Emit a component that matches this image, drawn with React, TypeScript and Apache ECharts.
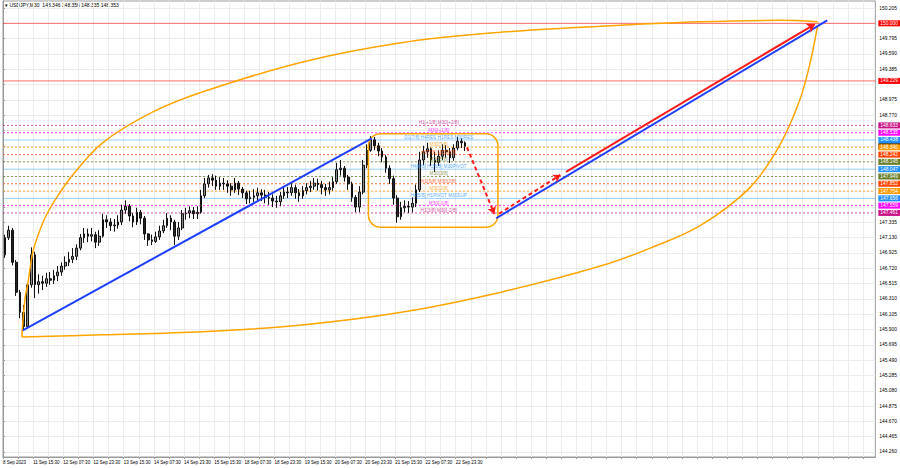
import React, { useEffect, useRef } from 'react';
import * as echarts from 'echarts';

// ---- axes ----
const timeLabels = ['8 Sep 2023', '11 Sep 15:30', '12 Sep 07:30', '12 Sep 23:30', '13 Sep 15:30', '14 Sep 07:30', '14 Sep 23:30', '15 Sep 15:30', '18 Sep 07:30', '18 Sep 23:30', '19 Sep 15:30', '20 Sep 07:30', '20 Sep 23:30', '21 Sep 15:30', '22 Sep 07:30', '22 Sep 23:30'];
const timeLabelBars = [0, 32, 64, 96, 128, 160, 192, 224, 256, 288, 320, 352, 384, 416, 448, 480];
const gridBars = [0, 16, 32, 48, 64, 80, 96, 112, 128, 144, 160, 176, 192, 208, 224, 240, 256, 272, 288, 304, 320, 336, 352, 368, 384, 400, 416, 432, 448, 464, 480, 496, 512, 528, 544, 560, 576, 592, 608, 624, 640, 656, 672, 688, 704, 720, 736, 752, 768, 784, 800, 816, 832, 848, 864, 880, 896, 912];
const priceTicks = [150.205, 150.0, 149.795, 149.59, 149.385, 149.18, 148.975, 148.77, 148.565, 148.36, 148.155, 147.95, 147.745, 147.54, 147.335, 147.13, 146.925, 146.72, 146.515, 146.31, 146.105, 145.9, 145.695, 145.49, 145.285, 145.08, 144.875, 144.67, 144.465, 144.26];
// tick labels visible (the others are covered by the level tags on the price scale)
const priceTickLabels = [150.205, 149.795, 149.59, 149.385, 148.975, 148.77, 147.335, 147.13, 146.925, 146.72, 146.515, 146.31, 146.105, 145.9, 145.695, 145.49, 145.285, 145.08, 144.875, 144.67, 144.465, 144.26];

// ---- price (2-hour candles: open, close, low, high) ----
const BARS_PER_CANDLE = 4;
const candles: number[][] = [
  [146.90, 147.13, 146.86, 147.17], [147.13, 147.23, 147.10, 147.29], [147.23, 146.80, 146.76, 147.26], [146.80, 146.40, 146.35, 146.83],
  [146.40, 146.13, 146.05, 146.43], [146.13, 145.94, 145.88, 146.23], [145.94, 146.50, 145.93, 146.52], [146.50, 146.90, 146.46, 147.00],
  [146.90, 146.50, 146.32, 146.94], [146.50, 146.54, 146.38, 146.64], [146.54, 146.52, 146.43, 146.62], [146.52, 146.58, 146.47, 146.66],
  [146.58, 146.56, 146.50, 146.67], [146.56, 146.62, 146.51, 146.70], [146.62, 146.67, 146.55, 146.75], [146.67, 146.75, 146.62, 146.80],
  [146.75, 146.80, 146.70, 146.88], [146.80, 146.84, 146.75, 146.94], [146.84, 146.88, 146.79, 146.99], [146.88, 146.99, 146.83, 147.04],
  [146.99, 147.13, 146.96, 147.18], [147.13, 147.18, 147.06, 147.26], [147.18, 147.15, 147.07, 147.25], [147.15, 147.17, 147.08, 147.26],
  [147.17, 147.07, 146.99, 147.21], [147.07, 147.15, 147.02, 147.23], [147.15, 147.37, 147.13, 147.45], [147.37, 147.34, 147.26, 147.43],
  [147.34, 147.29, 147.22, 147.39], [147.29, 147.30, 147.21, 147.38], [147.30, 147.34, 147.25, 147.43], [147.34, 147.50, 147.30, 147.57],
  [147.50, 147.55, 147.45, 147.63], [147.55, 147.42, 147.35, 147.58], [147.42, 147.34, 147.27, 147.46], [147.34, 147.47, 147.30, 147.53],
  [147.47, 147.39, 147.31, 147.50], [147.39, 147.18, 147.10, 147.42], [147.18, 147.10, 147.02, 147.19], [147.10, 147.08, 147.03, 147.17],
  [147.08, 147.14, 147.06, 147.21], [147.14, 147.22, 147.10, 147.29], [147.22, 147.29, 147.19, 147.37], [147.29, 147.39, 147.26, 147.46],
  [147.39, 147.34, 147.23, 147.43], [147.34, 147.15, 147.03, 147.37], [147.15, 147.26, 147.10, 147.34], [147.26, 147.45, 147.23, 147.50],
  [147.45, 147.46, 147.37, 147.53], [147.46, 147.49, 147.39, 147.55], [147.49, 147.45, 147.38, 147.54], [147.45, 147.47, 147.38, 147.55],
  [147.47, 147.69, 147.45, 147.77], [147.69, 147.85, 147.66, 147.93], [147.85, 147.93, 147.80, 147.97], [147.93, 147.90, 147.82, 147.98],
  [147.90, 147.82, 147.77, 147.96], [147.82, 147.86, 147.77, 147.94], [147.86, 147.85, 147.77, 147.93], [147.85, 147.82, 147.73, 147.90],
  [147.82, 147.77, 147.69, 147.86], [147.77, 147.86, 147.73, 147.93], [147.86, 147.78, 147.70, 147.89], [147.78, 147.73, 147.66, 147.81],
  [147.73, 147.65, 147.58, 147.76], [147.65, 147.67, 147.59, 147.76], [147.67, 147.69, 147.61, 147.78], [147.69, 147.73, 147.63, 147.80],
  [147.73, 147.70, 147.62, 147.78], [147.70, 147.67, 147.59, 147.77], [147.67, 147.66, 147.57, 147.74], [147.66, 147.62, 147.54, 147.71],
  [147.62, 147.61, 147.53, 147.69], [147.61, 147.69, 147.55, 147.74], [147.69, 147.74, 147.65, 147.82], [147.74, 147.73, 147.66, 147.81],
  [147.73, 147.80, 147.69, 147.86], [147.80, 147.73, 147.65, 147.84], [147.73, 147.69, 147.61, 147.78], [147.69, 147.76, 147.65, 147.82],
  [147.76, 147.80, 147.71, 147.86], [147.80, 147.82, 147.74, 147.89], [147.82, 147.86, 147.77, 147.93], [147.86, 147.84, 147.76, 147.92],
  [147.84, 147.80, 147.71, 147.89], [147.80, 147.77, 147.69, 147.85], [147.77, 147.80, 147.71, 147.88], [147.80, 147.88, 147.76, 147.94],
  [147.88, 148.04, 147.85, 148.13], [148.04, 148.06, 147.96, 148.17], [148.06, 147.94, 147.88, 148.09], [147.94, 147.85, 147.77, 147.97],
  [147.85, 147.67, 147.61, 147.88], [147.67, 147.54, 147.47, 147.70], [147.54, 147.74, 147.47, 147.82], [147.74, 148.10, 147.71, 148.17],
  [148.10, 148.30, 148.06, 148.38], [148.30, 148.44, 148.28, 148.49], [148.44, 148.36, 148.30, 148.48], [148.36, 148.29, 148.22, 148.40],
  [148.29, 148.21, 148.14, 148.33], [148.21, 148.06, 148.00, 148.24], [148.06, 147.92, 147.85, 148.10], [147.92, 147.66, 147.57, 147.96],
  [147.66, 147.41, 147.33, 147.70], [147.41, 147.53, 147.37, 147.61], [147.53, 147.55, 147.47, 147.63], [147.55, 147.54, 147.46, 147.62],
  [147.54, 147.59, 147.47, 147.67], [147.59, 147.77, 147.54, 147.84], [147.77, 148.17, 147.74, 148.28], [148.17, 148.28, 148.10, 148.36],
  [148.28, 148.32, 148.20, 148.40], [148.32, 148.17, 148.09, 148.34], [148.17, 148.14, 148.01, 148.28], [148.14, 148.22, 148.09, 148.30],
  [148.22, 148.30, 148.17, 148.38], [148.30, 148.28, 148.20, 148.37], [148.28, 148.20, 148.13, 148.33], [148.20, 148.33, 148.16, 148.38],
  [148.33, 148.42, 148.30, 148.48], [148.42, 148.40, 148.33, 148.46], [148.40, 148.353, 148.29, 148.42],
];
const headerText = '\u25BE USDJPY,M30  148.346 148.356 148.335 148.353';
const bidPrice = 148.353;

// ---- Murrey levels ----
const levelPrices = [148.633, 148.535, 148.438, 148.340, 148.242, 148.145, 148.047, 147.949, 147.852, 147.754, 147.656, 147.559, 147.461];
const levelColors = ['#C71585', '#FF00FF', '#1E90FF', '#FF9900', '#FF4500', '#6B7F2A', '#1E90FF', '#6B7F2A', '#FF4500', '#FF9900', '#1E90FF', '#FF00FF', '#C71585'];
const levelTexts = ['H1[+1/8] M30[+2/8]', 'M30[+1/8]', 'D1[7/8] H4RES H1RES M30RES', 'M30[7/8]', 'H1[7/8] M30[6/8]', 'M30[5/8]', 'H4[6/8] H1[6/8] M30PIVOT', 'M30[3/8]', 'H1[5/8] M30[2/8]', 'M30[1/8]', 'H4[5/8] H1PIVOT M30SUP', 'M30[-1/8]', 'H1[3/8] M30[-2/8]'];
const levelTextBar = 462;
const redLevels = [150.0, 149.229];

// ---- drawn objects (bar index, price) ----
const blueLines = [
  [[21, 145.89], [391, 148.46]],
  [[523, 147.39], [874, 150.04]],
];
const redSolidArrow = [[597, 148.01], [861, 149.99]];
const redDashedArrows = [
  [[492, 148.34], [521, 147.45]],
  [[526, 147.45], [591, 147.97]],
];
const boxCorners = [[387.5, 148.52, 524.8, 147.27]];
const upperArc = [[20, 145.80], [23.2, 146.30], [26.4, 146.52], [31.7, 146.94], [39.1, 147.23], [47.5, 147.47], [58.1, 147.69], [73.9, 147.97], [105.6, 148.40], [158.4, 148.81], [211.2, 149.08], [316.8, 149.48], [422.4, 149.74], [528, 149.88], [633.6, 149.96], [739.2, 150.02], [823.7, 150.04], [863.8, 150.02]];
const lowerArc = [[20, 145.80], [105.6, 145.83], [211.2, 145.87], [316.8, 145.96], [422.4, 146.13], [528, 146.40], [633.6, 146.75], [686.4, 146.99], [739.2, 147.29], [792, 147.80], [823.7, 148.37], [844.8, 148.97], [855.3, 149.44], [863.8, 149.97]];

const X_MIN = 0;
const X_MAX = 925;
const FONT = 'Liberation Sans';
const FS_AX = 4.9;
const FS_X = 4.5;
const FS_TXT = 4.7;

export default function App() {
  const ref = useRef<HTMLDivElement>(null);
  useEffect(() => {
    if (!ref.current) return;
    const chart = echarts.init(ref.current, null, { renderer: 'svg' });
    const candleData = candles.map((c, k) => [k * BARS_PER_CANDLE + BARS_PER_CANDLE / 2, c[0], c[1], c[2], c[3]]);

    const tag = (txt: string, bg: string) => ({
      show: true, formatter: txt, backgroundColor: bg, color: '#fff',
      padding: [1, 2, 0, 2], fontSize: FS_AX, fontFamily: FONT, distance: 3,
    });
    const levelSeries = (p: number, color: string, type: any, opacity: number, bg: string, z: number) => ({
      type: 'line', data: [[X_MIN, p], [X_MAX, p]], symbol: 'none', showSymbol: false, silent: true, z,
      lineStyle: { color, type, width: 1, opacity },
      endLabel: tag(p.toFixed(3), bg),
    });

    const levelSeriesList: any[] = [];
    levelSeriesList.push(levelSeries(bidPrice, '#000', 'solid', 0, '#000', 1));
    redLevels.forEach((p) => levelSeriesList.push(levelSeries(p, '#FF3030', 'solid', 0.7, '#FF0000', 1)));
    levelPrices.forEach((p, i) => {
      const blue = levelColors[i] === '#1E90FF';
      levelSeriesList.push(levelSeries(p, levelColors[i], blue ? 'solid' : [2, 2], blue ? 0.45 : 0.75, levelColors[i], 1));
    });

    const lineMarks: any[] = [];
    blueLines.forEach((l) => {
      lineMarks.push([
        { coord: l[0], symbol: 'none', lineStyle: { color: '#1F3FFF', width: 2, type: 'solid' } },
        { coord: l[1], symbol: 'none' },
      ]);
    });
    lineMarks.push([
      { coord: redSolidArrow[0], symbol: 'none', lineStyle: { color: '#FF1A1A', width: 2, type: 'solid' } },
      { coord: redSolidArrow[1], symbol: 'arrow', symbolSize: 8 },
    ]);
    redDashedArrows.forEach((l) => {
      lineMarks.push([
        { coord: l[0], symbol: 'none', lineStyle: { color: '#FF1A1A', width: 2, type: [4, 3] } },
        { coord: l[1], symbol: 'arrow', symbolSize: 7 },
      ]);
    });

    chart.setOption({
      animation: false,
      backgroundColor: '#fff',
      textStyle: { fontFamily: FONT },
      graphic: [{ type: 'text', left: 5, top: 2, style: { text: headerText, fontSize: 5, fill: '#000', fontFamily: FONT } }],
      grid: { left: 1, right: 23, top: 1, bottom: 11, show: true, borderColor: '#9a9a9a', borderWidth: 1, containLabel: false },
      xAxis: {
        type: 'value', min: X_MIN, max: X_MAX,
        axisLine: { show: true, lineStyle: { color: '#9a9a9a' } },
        axisTick: { show: true, customValues: gridBars, length: 2, lineStyle: { color: '#9a9a9a' } },
        splitLine: { show: true, lineStyle: { color: '#ececec', width: 1 } },
        axisLabel: {
          customValues: timeLabelBars, fontSize: FS_X, color: '#000', margin: 3, align: 'left', fontFamily: FONT,
          formatter: (v: number) => { const i = timeLabelBars.indexOf(Math.round(v)); return i >= 0 ? timeLabels[i] : ''; },
        },
      },
      yAxis: {
        type: 'value', position: 'right', min: 144.193, max: 150.299, scale: true,
        axisLine: { show: true, lineStyle: { color: '#9a9a9a' } },
        axisTick: { show: true, customValues: priceTicks, length: 2, lineStyle: { color: '#9a9a9a' } },
        splitLine: { show: true, lineStyle: { color: '#ececec', width: 1 } },
        axisLabel: { customValues: priceTickLabels, fontSize: FS_AX, color: '#000', margin: 4, fontFamily: FONT, formatter: (v: number) => v.toFixed(3) },
      },
      series: [
        ...levelSeriesList,
        {
          type: 'candlestick', data: candleData, encode: { x: 0, y: [1, 2, 3, 4] }, barWidth: 2.2, z: 2,
          itemStyle: { color: '#8a8a8a', color0: '#222', borderColor: '#111', borderColor0: '#111', borderWidth: 1 },
        },
        {
          type: 'line', data: upperArc, smooth: 0.35, showSymbol: false, symbol: 'none', silent: true, z: 3,
          lineStyle: { color: '#FFA500', width: 1.5 },
        },
        {
          type: 'line', data: lowerArc, smooth: 0.35, showSymbol: false, symbol: 'none', silent: true, z: 3,
          lineStyle: { color: '#FFA500', width: 1.5 },
        },
        {
          type: 'custom', data: boxCorners, encode: { x: [0, 2], y: [1, 3] }, silent: true, z: 4,
          renderItem: (params: any, api: any) => {
            const p1 = api.coord([api.value(0), api.value(1)]);
            const p2 = api.coord([api.value(2), api.value(3)]);
            return { type: 'rect', shape: { x: p1[0], y: p1[1], width: p2[0] - p1[0], height: p2[1] - p1[1], r: 12 }, style: { fill: 'none', stroke: '#FFA500', lineWidth: 1.5 } };
          },
        },
        {
          type: 'scatter', symbolSize: 0, silent: true, z: 5,
          data: levelPrices.map((p, i) => ({ value: [levelTextBar, p], name: levelTexts[i], label: { color: levelColors[i] } })),
          label: { show: true, position: 'top', distance: 0, fontSize: FS_TXT, fontFamily: FONT, formatter: (p: any) => p.name },
          markLine: { silent: true, symbol: ['none', 'none'], animation: false, data: lineMarks, label: { show: false } },
        },
      ],
    });
    return () => chart.dispose();
  }, []);
  return <div ref={ref} style={{ position: 'fixed', left: 0, top: 0, width: 900, height: 468, background: '#fff' }} />;
}
